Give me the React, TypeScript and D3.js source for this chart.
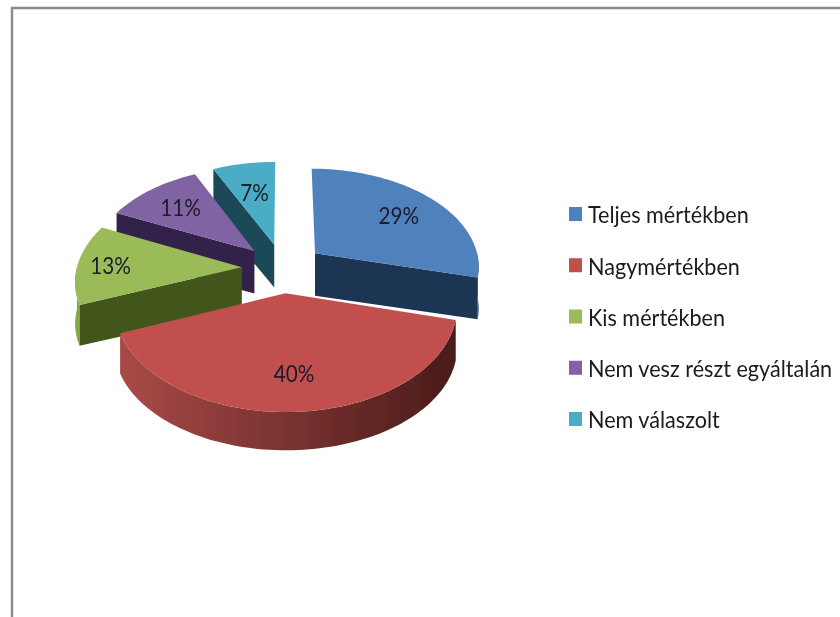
import React from 'react';
import * as d3 from 'd3';

const categories = ['Teljes mértékben', 'Nagymértékben', 'Kis mértékben', 'Nem vesz részt egyáltalán', 'Nem válaszolt'];
const values = [29, 40, 13, 11, 7];
const colors = ['#4f81bd', '#c0504d', '#9bbb59', '#8064a2', '#4bacc6'];
const cutColors = ['#1f3552', '#5a1f1d', '#43571f', '#33234a', '#1c4a58'];
const rimLight = ['#2c4a70', '#a84a47', '#8aa84c', '#4d3a66', '#2a6a7a'];
const rimDark = ['#1f3552', '#4a1b1a', '#86a548', '#33234a', '#1c4a58'];

const width = 840;
const height = 617;

// perspective projection of the flat pie, fitted by eye
const cx = 283;
const cy = 268;
const R = 165;
const A = 98;
const k = 0.12;
const explode = 0.25;
const labelRadius = [0.7, 0.7, 0.8, 0.7, 0.62];
const drawOrder = [4, 3, 0, 2, 1];
// the original font is narrower than Lato
const squeeze = 0.9;

const project = (u: number, v: number, z = 0): [number, number] => {
  const s = 1 / (1 - k * v);
  return [cx + R * u * s, cy + A * v * s + z * (42 - 3 * v)];
};

const arcPoints = (a0: number, a1: number, ox: number, oy: number, z = 0) => {
  const n = Math.max(2, Math.ceil(Math.abs(a1 - a0) / 0.03));
  return d3.range(n + 1).map(i => {
    const a = a0 + ((a1 - a0) * i) / n;
    return project(ox + Math.sin(a), oy - Math.cos(a), z);
  });
};

const line = d3.line();

const App = () => {
  const arcs = d3.pie<number>().sort(null)(values);
  const legendY = d3.scalePoint<string>().domain(categories).range([214, 419]);

  const slices = arcs.map((d, i) => {
    const mid = (d.startAngle + d.endAngle) / 2;
    const ox = explode * Math.sin(mid);
    const oy = -explode * Math.cos(mid);
    const apex = project(ox, oy);
    const apexLow = project(ox, oy, 1);
    const top = [apex, ...arcPoints(d.startAngle, d.endAngle, ox, oy)] as [number, number][];

    const cuts: [number, number][][] = [];
    const cut = (a: number) => {
      const [rimTop] = arcPoints(a, a, ox, oy);
      const [rimLow] = arcPoints(a, a, ox, oy, 1);
      cuts.push([apex, rimTop, rimLow, apexLow]);
    };
    if (d.endAngle < Math.PI) cut(d.endAngle);
    if (d.startAngle > Math.PI) cut(d.startAngle);

    // rim only shows on the half facing the viewer
    const r0 = Math.max(d.startAngle, Math.PI / 2);
    const r1 = Math.min(d.endAngle, (3 * Math.PI) / 2);
    const rim =
      r1 > r0
        ? [...arcPoints(r0, r1, ox, oy), ...arcPoints(r0, r1, ox, oy, 1).reverse()]
        : null;
    const rimXs = rim ? (d3.extent(rim, p => p[0]) as [number, number]) : [0, 1];

    const labelPos = project(ox + labelRadius[i] * Math.sin(mid), oy - labelRadius[i] * Math.cos(mid));
    return { i, top, cuts, rim, rimXs, labelPos };
  });

  return (
    <svg
      width={width}
      height={height}
      style={{ position: 'absolute', left: 0, top: 0, background: '#fff' }}
      fontFamily="Lato, 'Open Sans', sans-serif"
    >
      <defs>
        <filter id="soft" x="-5%" y="-5%" width="110%" height="110%">
          <feGaussianBlur stdDeviation="0.6" />
        </filter>
        {slices.map(s => (
          <linearGradient
            key={s.i}
            id={`rim${s.i}`}
            gradientUnits="userSpaceOnUse"
            x1={s.rimXs[0]}
            x2={s.rimXs[1]}
            y1={0}
            y2={0}
          >
            <stop offset="0" stopColor={rimLight[s.i]} />
            <stop offset="1" stopColor={rimDark[s.i]} />
          </linearGradient>
        ))}
      </defs>

      <g filter="url(#soft)">
        <rect x={12} y={8} width={width + 40} height={height + 40} fill="none" stroke="#8c8c8c" strokeWidth={2.5} />

        {drawOrder.map(i => {
          const s = slices[i];
          return (
            <g key={categories[i]}>
              {s.rim && <path d={line(s.rim) + 'Z'} fill={`url(#rim${i})`} />}
              {s.cuts.map((c, j) => (
                <path key={j} d={line(c) + 'Z'} fill={cutColors[i]} />
              ))}
              <path d={line(s.top) + 'Z'} fill={colors[i]} />
            </g>
          );
        })}

        {slices.map(s => (
          <text
            key={s.i}
            transform={`translate(${s.labelPos[0]},${s.labelPos[1]}) scale(${squeeze},1)`}
            textAnchor="middle"
            dominantBaseline="central"
            fontSize={23}
            fill="#1b1b2b"
          >
            {`${values[s.i]}%`}
          </text>
        ))}

        {categories.map((c, i) => (
          <g key={c} transform={`translate(569,${legendY(c)})`}>
            <rect x={0} y={-7} width={13} height={14} fill={colors[i]} />
            <text
              transform={`translate(19,0) scale(${squeeze},1)`}
              dominantBaseline="central"
              fontSize={24}
              fill="#1a1a1a"
            >
              {c}
            </text>
          </g>
        ))}
      </g>
    </svg>
  );
};

export default App;
